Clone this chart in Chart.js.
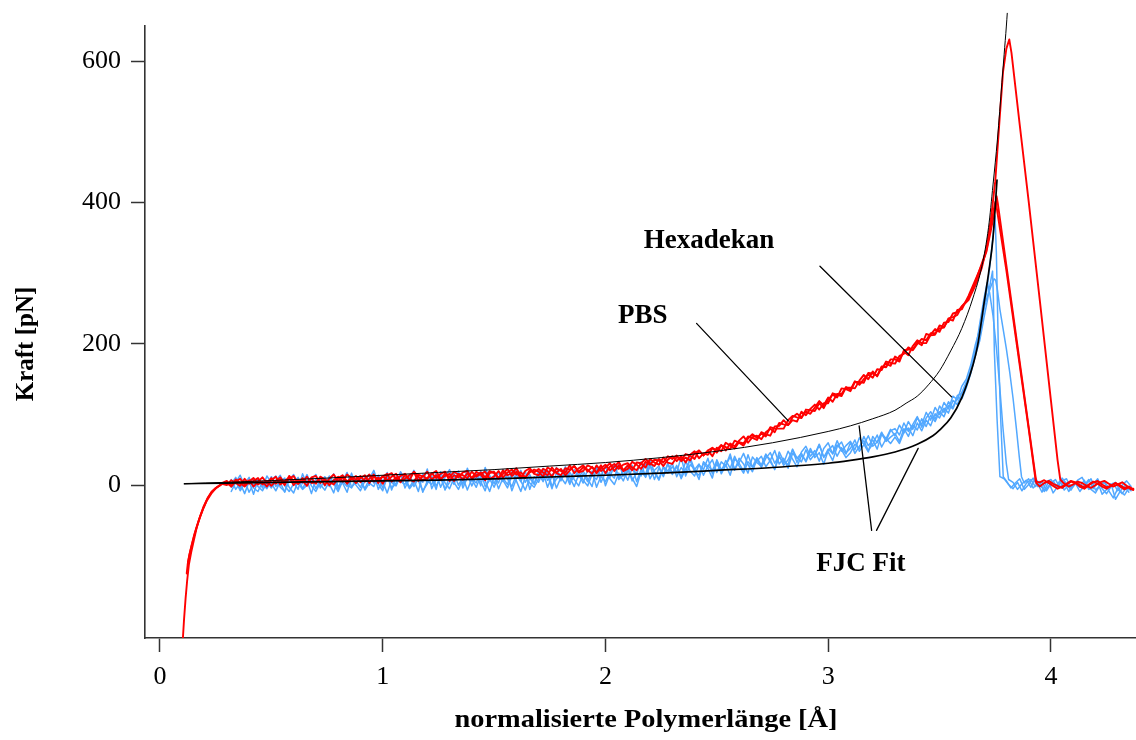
<!DOCTYPE html>
<html>
<head>
<meta charset="utf-8">
<script src="https://cdn.jsdelivr.net/npm/chart.js@4.4.1/dist/chart.umd.min.js"></script>
<style>
  html, body { margin: 0; padding: 0; background: #fff; }
  canvas { display: block; }
</style>
</head>
<body>
<canvas id="c" width="1136" height="740"></canvas>
<script>
// Axis ticks
const xTicks = [0, 1, 2, 3, 4];
const yTicks = [0, 200, 400, 600];

// Common sampling grid of the extension traces (normalised length, Å)
const gridX = [
  0.30,0.32,0.34,0.36,0.38,0.40,0.42,0.44,0.46,0.48,
  0.50,0.52,0.54,0.56,0.58,0.60,0.62,0.64,0.66,0.68,
  0.70,0.72,0.74,0.76,0.78,0.80,0.82,0.84,0.86,0.88,
  0.90,0.92,0.94,0.96,0.98,1.00,1.02,1.04,1.06,1.08,
  1.10,1.12,1.14,1.16,1.18,1.20,1.22,1.24,1.26,1.28,
  1.30,1.32,1.34,1.36,1.38,1.40,1.42,1.44,1.46,1.48,
  1.50,1.52,1.54,1.56,1.58,1.60,1.62,1.64,1.66,1.68,
  1.70,1.72,1.74,1.76,1.78,1.80,1.82,1.84,1.86,1.88,
  1.90,1.92,1.94,1.96,1.98,2.00,2.02,2.04,2.06,2.08,
  2.10,2.12,2.14,2.16,2.18,2.20,2.22,2.24,2.26,2.28,
  2.30,2.32,2.34,2.36,2.38,2.40,2.42,2.44,2.46,2.48,
  2.50,2.52,2.54,2.56,2.58,2.60,2.62,2.64,2.66,2.68,
  2.70,2.72,2.74,2.76,2.78,2.80,2.82,2.84,2.86,2.88,
  2.90,2.92,2.94,2.96,2.98,3.00,3.02,3.04,3.06,3.08,
  3.10,3.12,3.14,3.16,3.18,3.20,3.22,3.24,3.26,3.28,
  3.30,3.32,3.34,3.36,3.38,3.40,3.42,3.44,3.46,3.48,
  3.50,3.52,3.54,3.56,3.58,3.60
];

// ---- PBS traces (force in pN) ----
const pbs1HeadX = [0.103,0.108,0.115,0.122,0.130,0.140,0.152,0.165,0.180,0.195,0.212,0.230,0.250,0.270,0.285];
const pbs1HeadY = [-216,-190,-160,-135,-112,-95,-78,-60,-45,-32,-20,-10,-4,0,4];
const pbs1Y = [
  6,-1,8,3,-2,5,10,1,5,-2,
  7,12,1,6,11,0,7,4,12,3,
  4,11,0,9,15,6,11,2,9,13,
  4,9,15,5,11,2,14,17,8,13,
  16,8,5,15,12,19,8,14,7,17,
  11,19,15,8,17,10,19,15,7,17,
  19,10,16,23,13,19,10,20,24,16,
  14,23,20,12,24,20,18,28,17,24,
  28,19,26,17,24,29,21,26,33,21,
  28,21,32,31,25,37,32,29,39,32,
  30,40,36,44,42,37,49,42,49,41,
  53,48,60,56,52,61,59,69,67,64,
  75,72,70,83,84,92,85,92,90,104,
  99,108,114,107,116,116,130,128,126,138,
  138,137,148,156,150,161,154,166,172,169,
  182,178,189,184,197,205,201,201,213,221,
  217,230,231,243,245,253
];
const pbs1TailX = [3.63,3.66,3.69,3.71,3.73,3.75,3.77,3.785,3.80,3.813,3.823,3.86,3.90,3.95,4.00,4.03,4.042,
  4.06,4.08,4.10,4.12,4.14,4.16,4.18,4.20,4.22,4.24,4.26,4.28,4.30,4.32,4.34,4.36,4.37];
const pbs1TailY = [262,282,308,335,375,430,520,585,618,631,612,510,402,262,120,35,8,
  2,-2,1,5,3,-1,-4,0,4,6,2,-2,1,4,-1,-6,-5];

const pbs2HeadX = [0.120,0.126,0.134,0.143,0.154,0.166,0.180,0.196,0.214,0.234,0.256,0.278];
const pbs2HeadY = [-125,-108,-96,-84,-70,-58,-44,-30,-18,-9,-3,2];
const pbs2Y = [
  0,7,3,-1,9,2,6,10,1,6,
  -1,6,11,3,9,13,2,6,-1,11,
  13,3,8,0,7,12,5,15,10,3,
  10,14,3,12,8,12,16,5,11,4,
  15,7,19,12,7,10,17,10,16,19,
  6,14,11,18,20,9,14,18,11,20,
  17,9,21,14,17,24,13,10,21,18,
  23,18,14,25,17,14,24,22,27,18,
  20,28,25,18,28,17,26,30,23,29,
  31,25,21,31,37,31,27,37,32,41,
  37,42,34,39,35,45,49,42,49,53,
  46,56,54,51,63,60,56,66,72,67,
  73,69,82,80,80,80,92,98,96,95,
  107,106,105,116,109,121,128,124,137,136,
  133,146,146,145,159,158,155,168,167,178,
  178,175,191,192,192,202,198,214,212,213,
  226,224,235,233,248,249
];
const pbs2TailX = [3.63,3.66,3.69,3.71,3.73,3.745,3.756,3.762,3.80,3.85,3.90,3.935,
  3.95,3.97,3.99,4.01,4.03,4.05,4.07,4.09,4.11,4.13,4.15,4.17,4.19,4.21,4.23,4.25,4.27,4.29,4.31,4.33,4.35,4.37];
const pbs2TailY = [268,290,312,330,360,385,409,398,311,197,83,3,
  -2,3,6,2,-1,-4,1,5,3,-2,-5,0,4,6,1,-3,-1,3,0,-4,-2,-6];

const pbs3HeadX = [0.125,0.131,0.140,0.150,0.162,0.176,0.192,0.210,0.230,0.252,0.276];
const pbs3HeadY = [-112,-100,-88,-76,-62,-48,-35,-22,-12,-4,1];
const pbs3Y = [
  3,-2,5,9,1,7,-2,5,11,3,
  10,2,8,0,13,6,2,10,4,10,
  2,12,8,5,1,10,14,5,11,8,
  13,5,9,15,3,13,7,12,16,6,
  9,14,18,6,13,9,16,20,9,13,
  16,6,16,14,10,19,12,16,19,9,
  12,20,11,18,22,15,18,11,18,22,
  19,12,25,21,18,23,14,21,27,19,
  25,22,16,28,20,25,31,20,28,20,
  23,33,29,23,33,29,36,35,27,36,
  41,34,41,32,43,48,38,45,43,52,
  50,57,49,59,55,63,69,60,68,70,
  65,75,80,75,88,86,85,96,101,96,
  104,101,110,119,113,124,118,129,129,139,
  135,147,142,150,157,152,164,163,175,173,
  172,183,186,195,191,200,207,205,215,215,
  222,223,236,238,241,253
];
const pbs3TailX = [3.63,3.66,3.69,3.71,3.73,3.748,3.752,3.80,3.85,3.90,3.932,
  3.95,3.97,3.99,4.01,4.03,4.05,4.07,4.09,4.11,4.13,4.15,4.17,4.19,4.21,4.23,4.25,4.27,4.29,4.31,4.33,4.35,4.37];
const pbs3TailY = [264,287,314,332,366,398,402,304,192,80,5,
  4,7,3,-1,-5,-2,2,6,4,0,-3,1,5,2,-2,-5,-1,3,-2,-6,-3,-7];

// ---- Hexadekan traces (force in pN) ----
const hex1Y = [
  null,-3,6,-8,2,11,-4,-9,5,1,
  12,-2,4,-10,7,15,3,-6,0,9,
  -5,8,-1,13,2,-9,6,18,-3,4,
  10,-7,3,-2,14,5,-11,8,1,16,
  -4,9,21,6,-8,2,13,-1,10,-6,
  4,17,0,11,-7,9,3,20,-2,7,
  14,-5,10,1,19,6,-9,12,3,-3,
  9,24,7,15,-4,11,2,18,8,-1,
  16,5,20,-3,13,27,9,1,17,6,
  22,10,-2,19,12,28,8,24,14,31,
  17,26,11,34,20,13,29,22,38,16,
  30,19,35,24,41,27,17,33,26,39,
  28,44,33,23,40,31,48,37,26,42,
  35,52,39,46,30,49,56,41,53,44,
  60,45,55,63,49,58,71,54,66,59,
  68,59,75,81,70,88,77,92,84,101,
  95,109,102,120,114,131
];
const hex1TailX = [3.62,3.64,3.66,3.68,3.70,3.715,3.73,3.74,3.749,3.755,3.764,3.775,3.786,
  3.80,3.82,3.84,3.86,3.88,3.90,3.92,3.94,3.96,3.98,4.00,4.02,4.04,4.06,4.08,4.10,4.12,4.14,4.16,4.18,4.20,4.22,4.24,4.26,4.28,4.30,4.32,4.34,4.36];
const hex1TailY = [146,160,191,208,250,282,322,352,381,330,193,90,12,
  6,-4,3,9,-6,1,10,-2,5,-8,2,8,-3,4,-9,0,6,-5,2,9,-7,-1,5,-4,3,-8,0,6,-2];

const hex2Y = [
  null,8,-6,3,-12,5,10,-2,-8,4,
  -4,6,14,-1,-9,2,11,-5,7,-12,
  9,1,-7,5,16,-2,3,-10,12,6,
  -3,11,0,17,-6,7,13,-4,2,19,
  8,-5,3,14,-10,6,1,17,-3,11,
  22,4,-6,9,15,-1,12,5,-8,14,
  2,18,7,-4,13,24,6,-7,10,1,
  16,5,21,-2,9,14,26,3,12,19,
  7,-1,15,23,4,18,11,29,8,14,
  25,6,18,13,32,9,21,27,12,30,
  15,28,9,23,35,19,14,31,24,10,
  36,22,29,14,37,31,20,43,25,34,
  41,26,35,49,30,38,24,45,39,33,
  50,36,44,58,40,47,35,54,61,46,
  52,64,48,57,70,55,61,75,62,68,
  73,62,80,69,85,78,94,83,99,90,
  104,97,113,108,124,122
];
const hex2TailX = [3.62,3.64,3.66,3.68,3.70,3.715,3.73,3.738,3.742,3.746,3.758,3.771,
  3.79,3.81,3.83,3.85,3.87,3.89,3.91,3.93,3.95,3.97,3.99,4.01,4.03,4.05,4.07,4.09,4.11,4.13,4.15,4.17,4.19,4.21,4.23,4.25,4.27,4.29,4.31,4.33,4.35];
const hex2TailY = [138,158,182,204,238,262,290,303,262,190,95,12,
  9,1,-5,4,-8,3,8,-2,5,-9,-1,6,-4,10,2,-7,3,-3,7,-6,1,9,-5,-12,-2,4,-8,-14,-4];

const hex3Y = [
  null,2,11,-5,7,-10,1,9,-4,13,
  3,-8,5,10,-3,-11,6,2,15,-1,
  -9,4,12,-2,8,-6,14,1,-4,10,
  6,-5,9,21,2,-8,11,4,-1,14,
  12,-3,7,-9,16,4,10,-6,19,3,
  -5,10,16,1,24,8,-3,13,6,-9,
  11,3,22,9,-2,15,5,20,-6,12,
  4,19,-3,13,25,8,16,1,22,11,
  20,9,-2,26,12,5,18,30,10,21,
  7,24,16,33,11,27,19,9,26,20,
  31,12,25,17,39,22,30,14,27,36,
  18,33,27,44,21,38,30,17,40,32,
  27,43,36,22,47,34,29,51,38,45,
  33,48,42,57,39,51,45,63,48,56,
  62,50,67,58,47,69,60,73,66,79,
  70,85,74,90,79,95,86,103,92,110,
  100,117,108,126,121,140
];
const hex3TailX = [3.62,3.64,3.66,3.68,3.70,3.72,3.735,3.745,3.752,3.76,3.771,3.785,3.80,3.815,3.83,3.845,3.858,3.868,
  3.88,3.90,3.92,3.94,3.96,3.98,4.00,4.02,4.04,4.06,4.08,4.10,4.12,4.14,4.16,4.18,4.20,4.22,4.24,4.26,4.28,4.30,4.32,4.34,4.36];
const hex3TailY = [150,170,198,220,252,272,285,292,290,276,249,222,193,160,123,80,40,12,
  3,9,-4,2,-10,5,8,-3,6,-7,1,-2,7,11,-1,-6,-11,0,4,-8,-18,-5,-12,-3,-8];

const hex4Y = [
  null,-9,4,14,-1,6,-13,8,2,-5,
  7,13,-3,-9,10,4,-6,16,1,8,
  15,-4,7,2,-11,11,5,-2,17,0,
  -8,6,15,3,10,-4,18,-7,12,5,
  1,15,-2,10,4,23,-5,8,14,-7,
  13,1,20,-4,11,6,17,-1,25,9,
  -3,12,5,16,-8,9,21,4,15,2,
  20,8,14,-5,18,6,23,11,-2,15,
  3,22,14,8,25,-1,16,10,31,13,
  19,28,5,22,15,36,18,7,25,17,
  26,18,40,13,29,23,8,33,27,21,
  34,16,28,40,23,32,45,29,19,37,
  25,38,46,31,42,28,36,50,32,47,
  55,41,49,34,52,60,44,57,50,39,
  46,58,52,69,56,64,51,72,63,77,
  80,71,88,76,86,97,82,95,104,93,
  112,103,118,110,127,130
];
const hex4TailX = [3.62,3.64,3.66,3.68,3.70,3.714,3.725,3.74,3.755,3.77,3.785,3.80,3.81,
  3.83,3.85,3.87,3.89,3.91,3.93,3.95,3.97,3.99,4.01,4.03,4.05,4.07,4.09,4.11,4.13,4.15,4.17,4.19,4.21,4.23,4.25,4.27,4.29,4.31,4.33,4.35];
const hex4TailY = [142,164,188,228,265,287,272,240,195,140,80,30,8,
  4,-6,2,7,-3,10,1,-8,5,-11,-2,6,9,-4,3,-9,0,8,-5,4,-13,-6,2,-20,-9,-1,-10];

// ---- Freely-jointed-chain fits ----
const fitPbsX = [0.11,0.3,0.5,0.75,1.0,1.25,1.5,1.75,2.0,2.25,2.5,2.75,3.0,3.1,3.2,3.3,3.35,3.4,3.45,3.5,3.55,3.6,3.65,3.69,3.72,3.74,3.76,3.78,3.79,3.80,3.804];
const fitPbsY = [2,4,6.5,10,14,18,22,27,32,39,48,60,76,84,94,106,116,126,142,162,190,222,265,310,365,425,490,570,610,650,668];
const fitHexX = [0.11,0.3,0.5,0.75,1.0,1.25,1.5,1.75,2.0,2.25,2.5,2.75,3.0,3.1,3.2,3.3,3.4,3.47,3.5,3.55,3.6,3.65,3.67,3.70,3.72,3.74,3.758];
const fitHexY = [2,3,4,5,6,7,9,11.5,14,17,21,25,31,35,40,47,58,70,78,95,124,170,196,258,300,350,432];

// Labels and their leader lines, in data units
const notes = [
  { text: 'Hexadekan', x: 2.465, y: 346 },
  { text: 'PBS', x: 2.168, y: 239 },
  { text: 'FJC Fit', x: 3.147, y: -111 }
];
const leaders = [
  [[2.963, 310], [3.554, 125]],
  [[2.409, 229], [2.821, 91]],
  [[3.195, -64], [3.139, 84]],
  [[3.217, -64], [3.404, 52]]
];

const xTitle = 'normalisierte Polymerlänge [Å]';
const yTitle = 'Kraft [pN]';

const SERIF = '"Liberation Serif", "DejaVu Serif", serif';
const RED = '#ff0000';
const BLUE = '#52a8ff';

function pairs(xs, ys, out) {
  xs.forEach((x, i) => { if (ys[i] !== null && ys[i] !== undefined) out.push({ x: x, y: ys[i] }); });
  return out;
}
function trace(headX, headY, gridY, tailX, tailY) {
  const pts = [];
  pairs(headX, headY, pts);
  pairs(gridX, gridY, pts);
  pairs(tailX, tailY, pts);
  return pts;
}

const datasets = [];
[
  [[], [], hex1Y, hex1TailX, hex1TailY],
  [[], [], hex2Y, hex2TailX, hex2TailY],
  [[], [], hex3Y, hex3TailX, hex3TailY],
  [[], [], hex4Y, hex4TailX, hex4TailY]
].forEach(a => datasets.push({
  data: trace(...a), borderColor: BLUE, borderWidth: 1.5, order: 4
}));
[
  [pbs1HeadX, pbs1HeadY, pbs1Y, pbs1TailX, pbs1TailY],
  [pbs2HeadX, pbs2HeadY, pbs2Y, pbs2TailX, pbs2TailY],
  [pbs3HeadX, pbs3HeadY, pbs3Y, pbs3TailX, pbs3TailY]
].forEach(a => datasets.push({
  data: trace(...a), borderColor: RED, borderWidth: 1.9, order: 3
}));
datasets.push({
  data: pairs(fitPbsX, fitPbsY, []), borderColor: '#000', borderWidth: 1.0,
  cubicInterpolationMode: 'monotone', clip: false, order: 2
});
datasets.push({
  data: pairs(fitHexX, fitHexY, []), borderColor: '#000', borderWidth: 1.7,
  cubicInterpolationMode: 'monotone', clip: false, order: 2
});
leaders.forEach(l => datasets.push({
  data: l.map(p => ({ x: p[0], y: p[1] })), borderColor: '#000', borderWidth: 1.3, order: 1
}));

// Draws a string centred on (x, y), stretched horizontally to a given width
function fitText(ctx, text, x, y, width) {
  const w = ctx.measureText(text).width;
  ctx.save();
  ctx.translate(x, y);
  ctx.scale(width / w, 1);
  ctx.fillText(text, 0, 0);
  ctx.restore();
}

const textPlugin = {
  id: 'textPlugin',
  afterDraw(chart) {
    const ctx = chart.ctx;
    const sx = chart.scales.x, sy = chart.scales.y;
    ctx.save();
    ctx.fillStyle = '#000';
    ctx.textAlign = 'center';
    ctx.textBaseline = 'middle';
    ctx.font = 'bold 27px ' + SERIF;
    notes.forEach(n => ctx.fillText(n.text, sx.getPixelForValue(n.x), sy.getPixelForValue(n.y)));
    ctx.font = 'bold 25px ' + SERIF;
    fitText(ctx, xTitle, 646, 721, 383);
    ctx.translate(27, 344);
    ctx.rotate(-Math.PI / 2);
    ctx.fillText(yTitle, 0, 0);
    ctx.restore();
  }
};

const axisLine = { display: true, color: '#333', width: 1.6 };
const tickGrid = { drawOnChartArea: false, drawTicks: true, tickLength: 14, tickColor: '#333', tickWidth: 1.5 };
const tickFont = { family: SERIF, size: 26 };

new Chart(document.getElementById('c'), {
  type: 'scatter',
  data: { datasets: datasets },
  options: {
    responsive: false,
    animation: false,
    devicePixelRatio: 1,
    showLine: true,
    layout: { padding: { top: 21, right: 0, bottom: 0, left: 0 } },
    plugins: { legend: { display: false }, tooltip: { enabled: false } },
    elements: {
      point: { radius: 0, hoverRadius: 0 },
      line: { tension: 0, borderJoinStyle: 'round', borderCapStyle: 'round', fill: false }
    },
    scales: {
      x: {
        type: 'linear', min: -0.0673, max: 4.382,
        afterBuildTicks: s => { s.ticks = xTicks.map(v => ({ value: v })); },
        afterFit: s => { s.height = 102; },
        border: axisLine,
        grid: tickGrid,
        ticks: { color: '#000', font: tickFont, padding: 10, maxRotation: 0, autoSkip: false, callback: v => String(v) }
      },
      y: {
        type: 'linear', min: -216.4, max: 650.6,
        afterBuildTicks: s => { s.ticks = yTicks.map(v => ({ value: v })); },
        afterFit: s => { s.width = 145; },
        border: axisLine,
        grid: tickGrid,
        ticks: { color: '#000', font: tickFont, padding: 10, autoSkip: false, callback: v => String(v) }
      }
    }
  },
  plugins: [textPlugin]
});
</script>
</body>
</html>
